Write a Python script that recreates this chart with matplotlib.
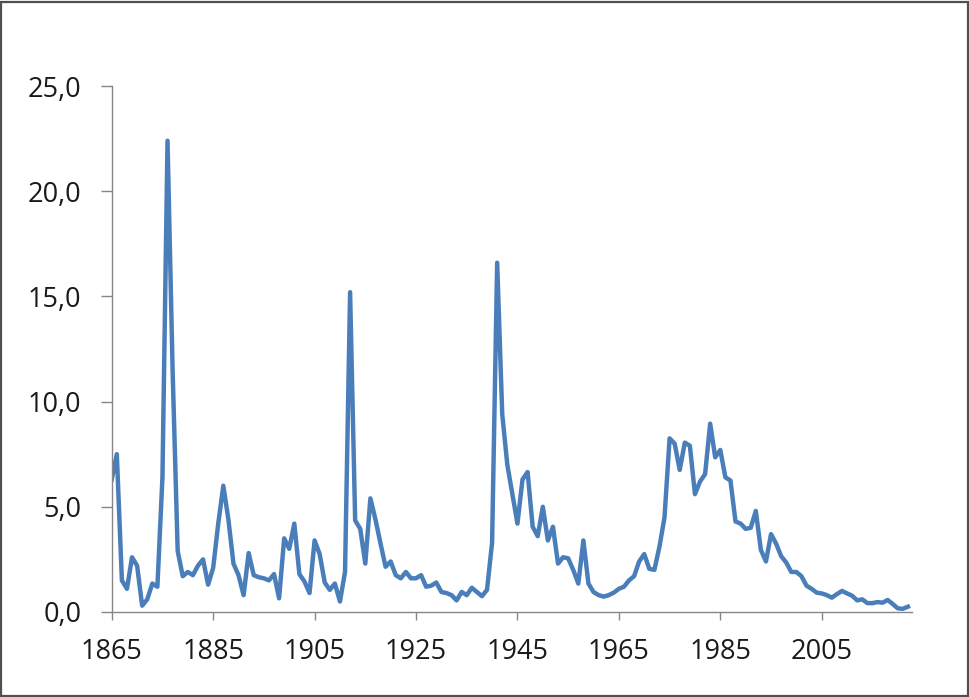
import matplotlib as mpl
mpl.use("Agg")
import matplotlib.pyplot as plt
from matplotlib.ticker import FuncFormatter
from matplotlib.patches import Rectangle

# years 1865..2022
start_year = 1865
values = [
    6.3, 7.5, 1.5, 1.1, 2.6, 2.2, 0.3, 0.6, 1.35, 1.2,        # 1865-1874
    6.4, 22.4, 11.5, 2.9, 1.7, 1.9, 1.75, 2.2, 2.5, 1.3,      # 1875-1884
    2.1, 4.2, 6.0, 4.4, 2.3, 1.75, 0.8, 2.8, 1.75, 1.65,      # 1885-1894
    1.6, 1.5, 1.8, 0.65, 3.5, 3.0, 4.2, 1.8, 1.45, 0.9,       # 1895-1904
    3.4, 2.75, 1.4, 1.05, 1.35, 0.5, 1.9, 15.2, 4.35, 3.95,   # 1905-1914
    2.3, 5.4, 4.4, 3.25, 2.15, 2.4, 1.75, 1.6, 1.9, 1.6,      # 1915-1924
    1.6, 1.75, 1.2, 1.25, 1.4, 0.95, 0.9, 0.8, 0.55, 0.95,    # 1925-1934
    0.8, 1.15, 0.95, 0.75, 1.05, 3.3, 16.6, 9.4, 7.0, 5.6,    # 1935-1944
    4.2, 6.3, 6.65, 4.05, 3.6, 5.0, 3.4, 4.05, 2.3, 2.6,      # 1945-1954
    2.55, 2.0, 1.35, 3.4, 1.35, 0.95, 0.8, 0.73, 0.8, 0.92,   # 1955-1964
    1.1, 1.2, 1.5, 1.7, 2.4, 2.75, 2.05, 2.0, 3.1, 4.5,       # 1965-1974
    8.25, 8.0, 6.75, 8.05, 7.9, 5.6, 6.2, 6.55, 8.95, 7.35,   # 1975-1984
    7.7, 6.4, 6.25, 4.3, 4.2, 3.95, 4.0, 4.8, 2.95, 2.4,      # 1985-1994
    3.7, 3.25, 2.65, 2.35, 1.9, 1.9, 1.7, 1.25, 1.1, 0.92,    # 1995-2004
    0.88, 0.8, 0.68, 0.85, 1.0, 0.88, 0.77, 0.55, 0.6, 0.42,  # 2005-2014
    0.42, 0.47, 0.44, 0.57, 0.38, 0.17, 0.15, 0.25,           # 2015-2022
]
years = list(range(start_year, start_year + len(values)))

x_ticks = [1865, 1885, 1905, 1925, 1945, 1965, 1985, 2005]
y_ticks = [0, 5, 10, 15, 20, 25]

plt.rcParams['font.family'] = ['Open Sans', 'DejaVu Sans']

fig = plt.figure(figsize=(9.7, 6.97), dpi=100)
ax = fig.add_axes([0.1152, 0.122, 0.825, 0.7546])

ax.plot(years, values, color='#4A7EBB', linewidth=3.2, solid_joinstyle='round')

ax.set_xlim(1865, 2022.8)
ax.set_ylim(0, 25)
ax.set_xticks(x_ticks)
ax.set_yticks(y_ticks)
ax.yaxis.set_major_formatter(FuncFormatter(lambda v, p: f"{v:.1f}".replace('.', ',')))

for s in ['top', 'right']:
    ax.spines[s].set_visible(False)
for s in ['left', 'bottom']:
    ax.spines[s].set_color('#868686')
    ax.spines[s].set_linewidth(1.0)

ax.tick_params(axis='y', direction='out', length=8, width=1.0, color='#868686',
               labelsize=19.5, labelcolor='#1a1a1a', pad=14)
ax.tick_params(axis='x', direction='out', length=6, width=1.0, color='#868686',
               labelsize=19.5, labelcolor='#1a1a1a', pad=13)

fig.patches.append(Rectangle((0.001, 0.0015), 0.997, 0.996, transform=fig.transFigure,
                             fill=False, edgecolor='#505050', linewidth=1.6))

plt.savefig('out.png', dpi=100)
